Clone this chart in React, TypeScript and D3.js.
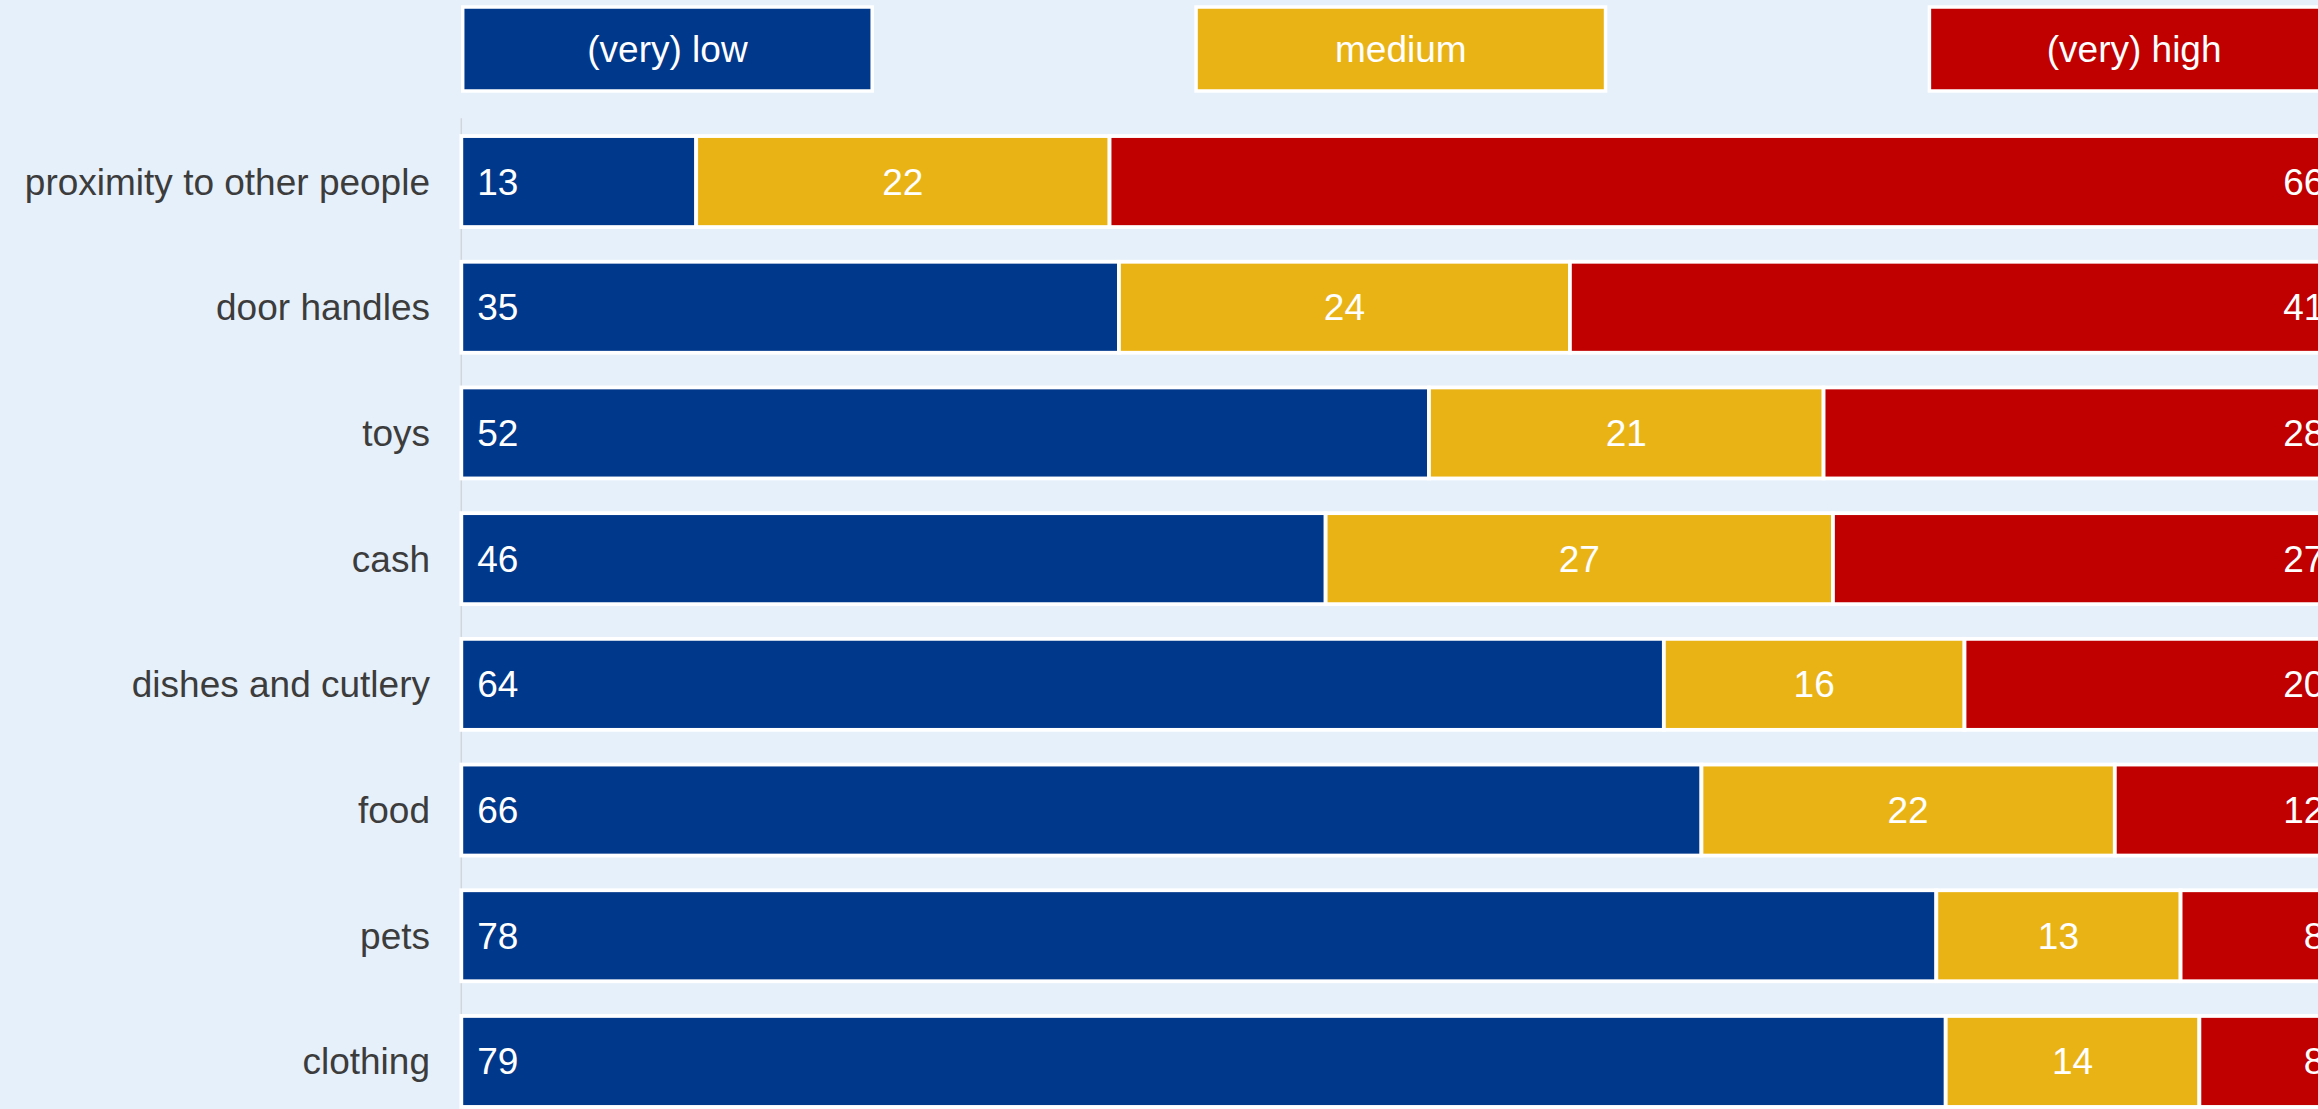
import * as d3 from 'd3'

// Risk perception by item, share of answers per level (percent)
const categories = [
  'proximity to other people',
  'door handles',
  'toys',
  'cash',
  'dishes and cutlery',
  'food',
  'pets',
  'clothing',
]
const levels = ['(very) low', 'medium', '(very) high']
const levelColors = ['#00388c', '#eab315', '#c00000']

const lowValues = [12.5, 35, 51.5, 46, 64, 66, 78.5, 79]
const mediumValues = [22, 24, 21, 27, 16, 22, 13, 13.5]
const highValues = [65.5, 41, 27.5, 27, 20, 12, 8.5, 7.5]

const lowLabels = ['13', '35', '52', '46', '64', '66', '78', '79']
const mediumLabels = ['22', '24', '21', '27', '16', '22', '13', '14']
const highLabels = ['66', '41', '28', '27', '20', '12', '8', '8']

const W = 2318
const H = 1109
const FONT = '"Liberation Sans", Arial, Helvetica, sans-serif'

export default function App() {
  const rows = categories.map((c, i) => ({
    category: c,
    [levels[0]]: lowValues[i],
    [levels[1]]: mediumValues[i],
    [levels[2]]: highValues[i],
  }))
  const labels = [lowLabels, mediumLabels, highLabels]

  const stacked = d3.stack<any>().keys(levels)(rows)

  const x = d3.scaleLinear().domain([0, 100]).range([461.3, 2340.3])
  const step = 125.7
  const y = d3.scaleBand()
    .domain(categories)
    .range([118.7, 118.7 + categories.length * step])
    .paddingInner(0.276)
    .paddingOuter(0.138)
  const bw = y.bandwidth()

  const [x0, x1] = x.range()
  const legW = 409.5
  const legX = [x0 + 1.4, (x0 + x1) / 2 - legW / 2, x1 - 1.4 - legW]

  return (
    <div style={{ position: 'fixed', left: 0, top: 0, width: W, height: H, overflow: 'hidden' }}>
      <svg width={W} height={H} style={{ display: 'block', fontFamily: FONT }}>
        <rect x={0} y={0} width={W} height={H} fill="#e6f0fa" />

        {/* legend */}
        {levels.map((lv, i) => (
          <g key={lv}>
            <rect x={legX[i]} y={7} width={legW} height={84} fill={levelColors[i]} stroke="#fff" strokeWidth={3.5} />
            <text x={legX[i] + legW / 2} y={49} dy="0.35em" textAnchor="middle" fill="#fff" fontSize={37}>{lv}</text>
          </g>
        ))}

        {/* axis line */}
        <line x1={x0} x2={x0} y1={118.3} y2={H} stroke="#d2d6db" strokeWidth={1.5} />

        {/* category labels */}
        {categories.map(c => (
          <text key={c} x={430} y={(y(c) ?? 0) + bw / 2} dy="0.35em" textAnchor="end" fill="#3c3c3c" fontSize={37}>{c}</text>
        ))}

        {/* bars */}
        {stacked.map((series, si) => (
          <g key={series.key}>
            {series.map((d, i) => {
              const c = categories[i]
              const top = y(c) ?? 0
              const left = x(d[0])
              const right = x(d[1])
              let tx = (left + right) / 2
              let anchor = 'middle'
              if (si === 0) { tx = left + 16; anchor = 'start' }
              if (si === 2) { tx = right - 16; anchor = 'end' }
              return (
                <g key={c}>
                  <rect x={left} y={top} width={right - left} height={bw} fill={levelColors[si]} stroke="#fff" strokeWidth={3.8} />
                  <text x={tx} y={top + bw / 2} dy="0.35em" textAnchor={anchor as any} fill="#fff" fontSize={37}>{labels[si][i]}</text>
                </g>
              )
            })}
          </g>
        ))}
      </svg>
    </div>
  )
}
